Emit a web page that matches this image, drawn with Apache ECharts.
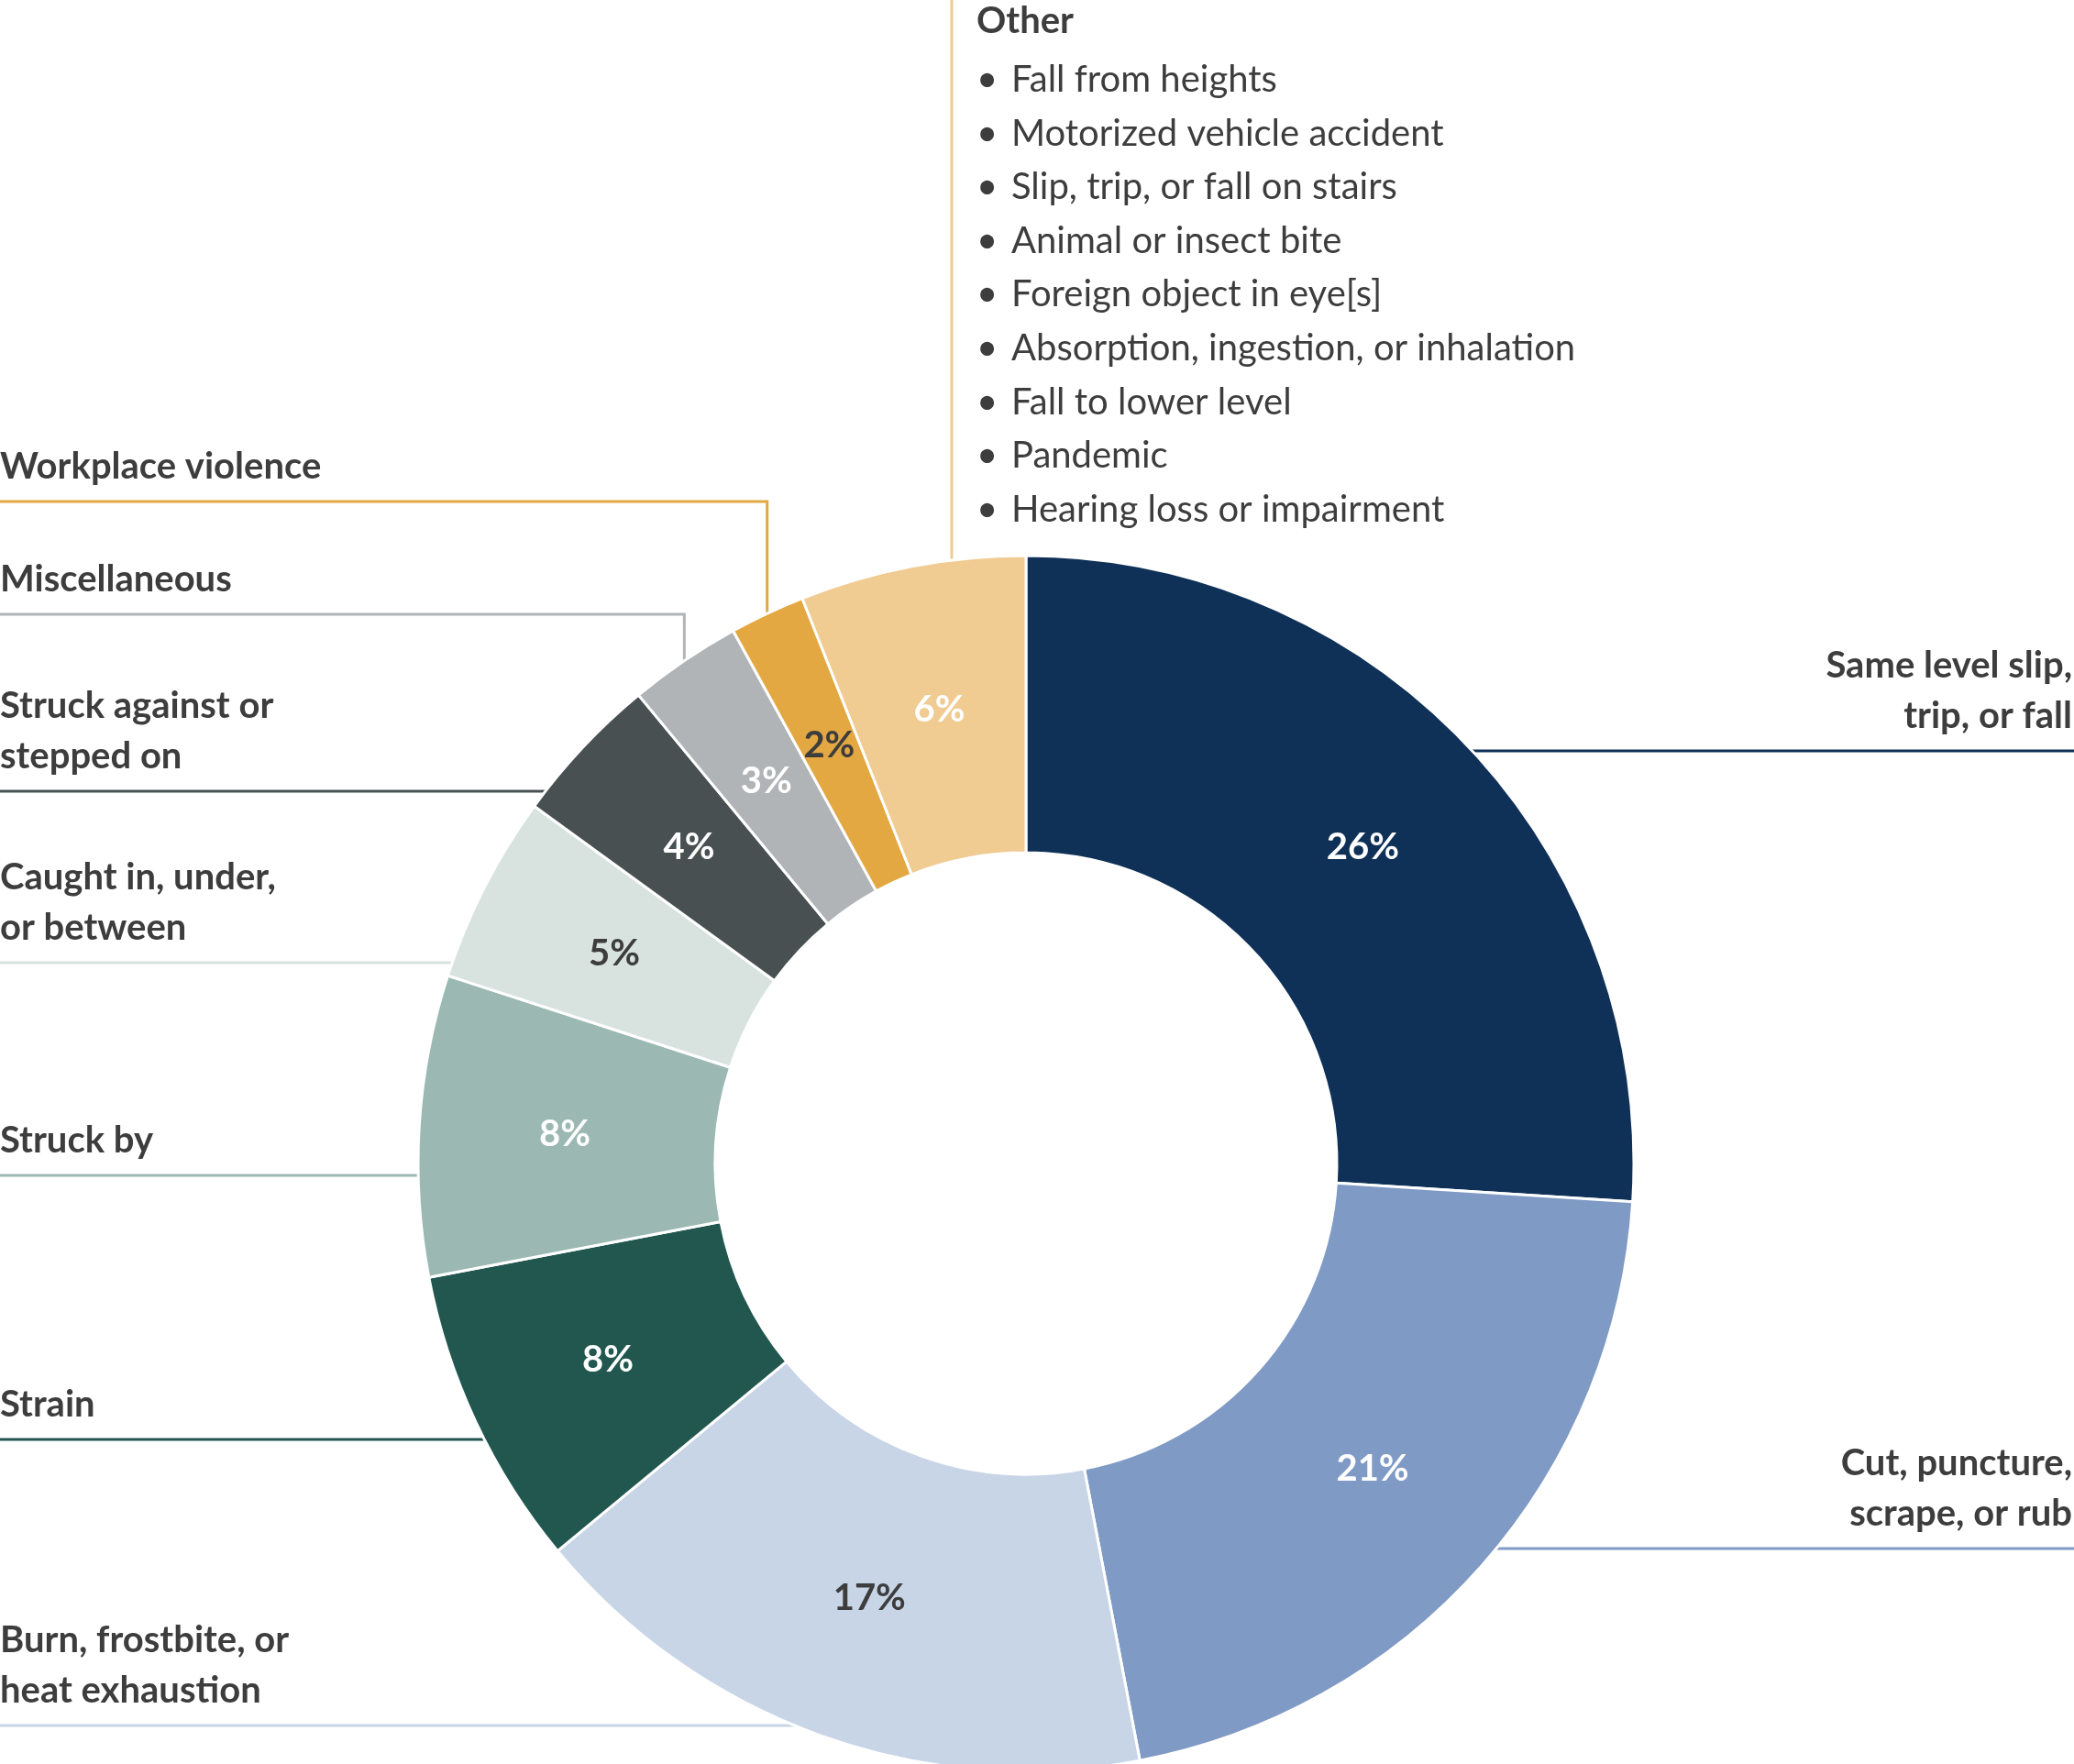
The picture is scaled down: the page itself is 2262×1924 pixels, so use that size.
<!DOCTYPE html>
<html><head><meta charset="utf-8">
<script src="https://cdn.jsdelivr.net/npm/echarts@6/dist/echarts.min.js"></script>
<style>html,body{margin:0;padding:0;background:#fff}#c{width:2262px;height:1924px}</style>
</head><body><div id="c"></div>
<script>
const categories = ['Same level slip, trip, or fall','Cut, puncture, scrape, or rub','Burn, frostbite, or heat exhaustion','Strain','Struck by','Caught in, under, or between','Struck against or stepped on','Miscellaneous','Workplace violence','Other'];
const values = [26,21,17,8,8,5,4,3,2,6];
const colors = ['#0f3157','#7f9ac4','#c8d5e7','#21574f','#9bb9b2','#d8e3e0','#485052','#b1b4b7','#e3a842','#f0cb92'];
const labelColors = ['#fff','#fff','#3d3d3d','#fff','#fff','#3d3d3d','#fff','#fff','#3d3d3d','#fff'];
const otherItems = ['Fall from heights','Motorized vehicle accident','Slip, trip, or fall on stairs','Animal or insect bite','Foreign object in eye[s]','Absorption, ingestion, or inhalation','Fall to lower level','Pandemic','Hearing loss or impairment'];

const cx=1119, cy=1269, R=663, r=339, W=2262;
const FONT='Lato, "Open Sans", sans-serif', TC='#3d3d3d';
const g=[];
function ptAt(pct){ // cumulative percent -> outer point
  const a=pct/100*2*Math.PI; return [cx+R*Math.sin(a), cy-R*Math.cos(a)];
}
function edgeX(y,side){ return cx+side*Math.sqrt(R*R-(y-cy)*(y-cy)); }
function line(pts,color){ g.push({type:'polyline',shape:{points:pts},style:{stroke:color,lineWidth:3,fill:null},z:1}); }
function txt(x,y,t,align,weight){ g.push({type:'text',x:x,y:y,style:{text:t,font:`${weight||'bold'} 40px ${FONT}`,fill:TC,align:align,verticalAlign:'bottom',lineHeight:55},z:2}); }
const total=values.reduce((a,b)=>a+b,0);
const cum=[];let s=0;values.forEach(v=>{cum.push(s);s+=v;});
const mid=i=>(cum[i]+values[i]/2)/total*100;
// right labels
[[0,819,'Same level slip,\ntrip, or fall'],[1,1689,'Cut, puncture,\nscrape, or rub']].forEach(([i,y,t])=>{
  line([[edgeX(y,1)-110,y],[W,y]],colors[i]); txt(W-2,y-10,t,'right');
});
// left labels without elbow
[[2,1882,'Burn, frostbite, or\nheat exhaustion',colors[2]],[3,1570,'Strain',colors[3]],[4,1282,'Struck by',colors[4]],[5,1050,'Caught in, under,\nor between',colors[5]],[6,863,'Struck against or\nstepped on',colors[6]]].forEach(([i,y,t,c])=>{
  line([[0,y],[edgeX(y,-1)+15,y]],c); txt(0,y-10,t,'left');
});
// elbow labels
[[7,670,'Miscellaneous'],[8,547,'Workplace violence']].forEach(([i,y,t])=>{
  const p=ptAt(mid(i)); line([[0,y],[p[0],y],[p[0],p[1]+12]],colors[i]); txt(0,y-10,t,'left');
});
// Other
const ox=1038; line([[ox,0],[ox,cy-Math.sqrt(R*R-(ox-cx)*(ox-cx))+5]],colors[9]);
g.push({type:'text',x:1065,y:23,style:{text:'Other',font:`bold 40px ${FONT}`,fill:TC,verticalAlign:'middle'}});
otherItems.forEach((t,k)=>{
  const y=87+k*58.6;
  g.push({type:'text',x:1065,y:y,style:{text:'•',font:`40px ${FONT}`,fill:TC,verticalAlign:'middle'}});
  g.push({type:'text',x:1103,y:y,style:{text:t,font:`40px ${FONT}`,fill:TC,verticalAlign:'middle'}});
});

const chart=echarts.init(document.getElementById('c'),null,{renderer:'canvas'});
chart.setOption({
  animation:false,
  series:[{type:'pie',center:[cx,cy],radius:[r,R],startAngle:90,clockwise:true,
    data:categories.map((n,i)=>({name:n,value:values[i],itemStyle:{color:colors[i]},label:{color:labelColors[i]}})),
    itemStyle:{borderColor:'#fff',borderWidth:3},
    label:{position:'inside',formatter:'{c}%',fontFamily:FONT,fontWeight:'bold',fontSize:40},
    labelLine:{show:false},emphasis:{disabled:true},z:3}],
  graphic:g
});
</script></body></html>
